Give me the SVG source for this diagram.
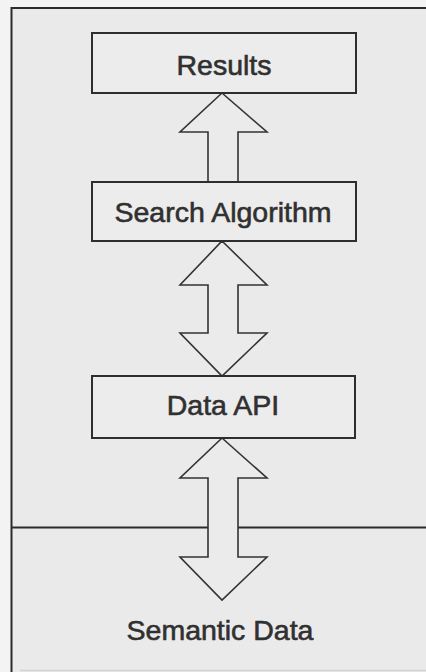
<svg xmlns="http://www.w3.org/2000/svg" width="426" height="672" viewBox="0 0 426 672">
  <defs>
    <style>
      .frame { stroke: #2b2b2b; stroke-width: 2; fill: none; }
      .box { fill: #ececec; stroke: #2e2e2e; stroke-width: 2; }
      .arrow { fill: #ebebeb; stroke: #333333; stroke-width: 1.6; stroke-linejoin: miter; }
      .label { font-family: "Liberation Sans", Arial, sans-serif; font-size: 28.5px; fill: #303030; stroke: #303030; stroke-width: 0.6; text-anchor: middle; }
    </style>
  </defs>

  <!-- page and panel background -->
  <rect x="0" y="0" width="426" height="672" fill="#f3f3f3"/>
  <rect x="11" y="8" width="415" height="664" fill="#eaeaea"/>

  <!-- panel border and layer divider -->
  <g id="frame">
    <polyline class="frame" points="11.5,672 11.5,8 426,8"/>
    <line class="frame" x1="11" y1="527.5" x2="210" y2="527.5"/>
    <line class="frame" x1="236" y1="527.5" x2="426" y2="527.5"/>
    <line x1="20" y1="670.5" x2="426" y2="670.5" stroke="#d2d2d2" stroke-width="1.5"/>
  </g>

  <!-- block arrows between layers -->
  <g id="connectors">
    <polygon class="arrow" points="222,93 267,132 238,132 238,182 208,182 208,132 180,132"/>
    <polygon class="arrow" points="222,241 267,285 238,285 238,333 267,333 222,376 180,333 208,333 208,285 180,285"/>
    <polygon class="arrow" points="222,438 267,478 238,478 238,557 267,557 222,600 180,557 208,557 208,478 180,478"/>
  </g>

  <g id="results">
    <rect class="box" x="92" y="33" width="264" height="60"/>
    <text class="label" x="224" y="75">Results</text>
  </g>

  <g id="search-algorithm">
    <rect class="box" x="92" y="182" width="264" height="59"/>
    <text class="label" x="223" y="222">Search Algorithm</text>
  </g>

  <g id="data-api">
    <rect class="box" x="92" y="376" width="263" height="62"/>
    <text class="label" x="223" y="414.5">Data API</text>
  </g>

  <g id="semantic-data">
    <text class="label" x="220" y="640">Semantic Data</text>
  </g>
</svg>
